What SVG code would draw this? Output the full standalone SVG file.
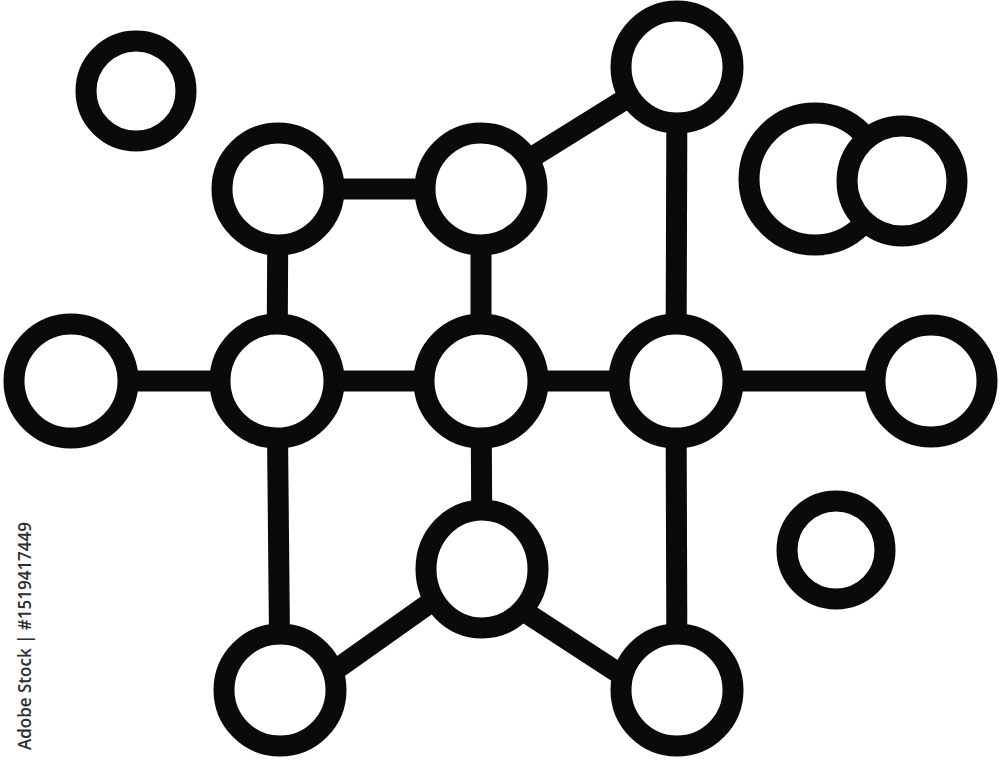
<svg xmlns="http://www.w3.org/2000/svg" width="1000" height="760" viewBox="0 0 1000 760">
<style>
.edge{stroke:#0a0a0a;stroke-width:21;fill:none;stroke-linecap:butt}
.node{fill:#ffffff;stroke:#0a0a0a;stroke-width:21}
.wm{font-family:"Open Sans","Liberation Sans",sans-serif;font-size:18px;font-weight:600;fill:#2e2e2e}
</style>
<rect width="1000" height="760" fill="#ffffff"/>
<g id="connectors">
<line class="edge" x1="278" y1="189" x2="481" y2="189"/>
<line class="edge" x1="481" y1="189" x2="677" y2="67"/>
<line class="edge" x1="677" y1="67" x2="676" y2="381"/>
<line class="edge" x1="278" y1="189" x2="277" y2="381"/>
<line class="edge" x1="481" y1="189" x2="481" y2="381"/>
<line class="edge" x1="71" y1="381" x2="931" y2="381"/>
<line class="edge" x1="481" y1="381" x2="482" y2="568"/>
<line class="edge" x1="277" y1="381" x2="280" y2="690"/>
<line class="edge" x1="676" y1="381" x2="677" y2="690"/>
<line class="edge" x1="300" y1="695" x2="482" y2="566"/>
<line class="edge" x1="482" y1="584" x2="677" y2="711"/>
</g>
<g id="node-small-topleft"><circle class="node" cx="136" cy="91" r="50" stroke-width="22"/></g>
<g id="node-top"><circle class="node" cx="677" cy="67" r="56"/></g>
<g id="node-a"><circle class="node" cx="278" cy="189" r="56"/></g>
<g id="node-b"><circle class="node" cx="481" cy="189" r="56"/></g>
<g id="node-left"><circle class="node" cx="71" cy="381" r="57" stroke-width="20"/></g>
<g id="node-c"><circle class="node" cx="277" cy="381" r="57"/></g>
<g id="node-d"><circle class="node" cx="481" cy="381" r="57"/></g>
<g id="node-e"><circle class="node" cx="676" cy="381" r="57"/></g>
<g id="node-right"><circle class="node" cx="931" cy="381" r="56"/></g>
<g id="node-f"><ellipse class="node" cx="482" cy="569" rx="56" ry="59"/></g>
<g id="node-g"><circle class="node" cx="280" cy="690" r="56"/></g>
<g id="node-h"><circle class="node" cx="677" cy="690" r="56"/></g>
<g id="node-small-bottomright"><circle class="node" cx="836" cy="550" r="49" stroke-width="21.5"/></g>
<g id="node-double">
<circle class="node" cx="815" cy="179" r="66" stroke-width="20"/>
<circle class="node" cx="902" cy="181" r="55"/>
</g>
<text class="wm" transform="translate(31,750) rotate(-90)" textLength="228" lengthAdjust="spacingAndGlyphs">Adobe Stock | #1519417449</text>
</svg>
